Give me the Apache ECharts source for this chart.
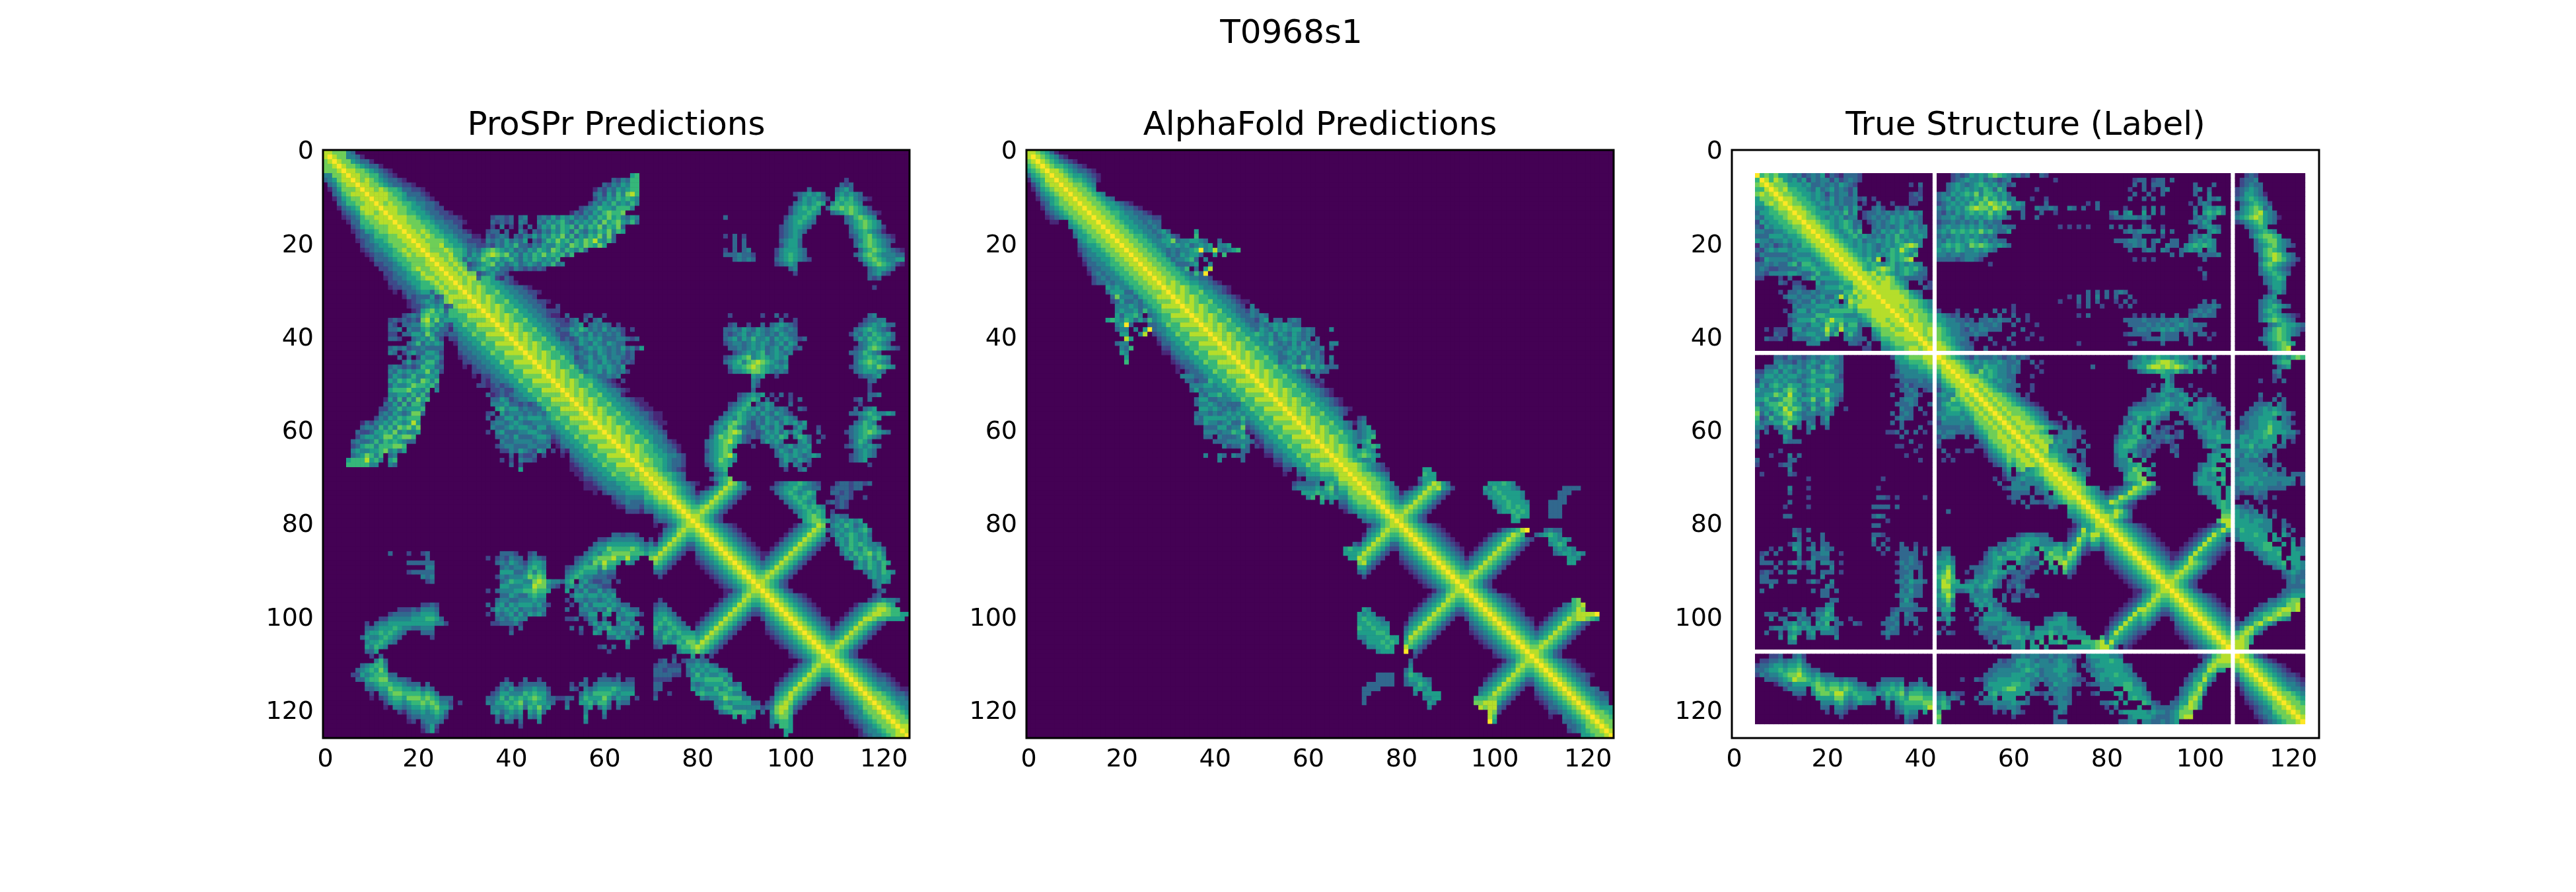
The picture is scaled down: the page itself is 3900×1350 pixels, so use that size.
<!DOCTYPE html>
<html><head><meta charset="utf-8">
<script src="https://cdn.jsdelivr.net/npm/echarts@6/dist/echarts.min.js"></script>
<style>html,body{margin:0;background:#fff}#c{width:3900px;height:1350px}</style></head>
<body><div id="c"></div>
<script>
const suptitle = "T0968s1";
const panelTitles = ["ProSPr Predictions","AlphaFold Predictions","True Structure (Label)"];
const tickStep = 20;
const residues = 126;
// Upper-triangle rows, "column:levels" with levels 0-9; matrices are symmetric.
const prosprRows = [
"0:8877743","1:98774431","2:987754331","3:9877654331","4:98877654321",
"5:98877664321,66:56","6:987876543321,62:324366,112:2","7:9887765433221,60:32435466,111:323","8:98878766533221,58:1324354566,104:3,110:3453","9:98888766533321,58:3425364786,101:23,103:45453,110:454543",
"10:98887765443321,58:2435465654,102:3545432,110:56564321","11:98787766544332,57:24354645464,101:3454565,109:4656654","12:98887765543322,55:234465546664,100:2456565,108:3667676542","13:988776655433221,53:132435467667,100:2455654,109:34567654321","14:9888776554332221,36:23,38:323,42:34,46:3435354534354657564354,86:3,99:2455654,112:3467654",
"15:9887776654433221,36:32,38:323,42:43,46:4354564354546475675463,99:3456543,112:34567654","16:98877766544332,36:2,38:4,40:2,42:3,44:3,46:3546465636465746573,98:2345543,113:35676542","17:988787665443321,35:2,36:33,39:3,42:42,45:32435465364354657465,98:234543,113:34565431","18:9887876655433321,32:1,35:32343,41:32435,46:35465746354657473,86:2,88:3,90:2,98:23454,113:2356754321","19:9887777655433221,31:2,33:2,35:434353435,45:324657564657685463,88:3,90:3,98:34553,114:346765432",
"20:98877866554332,34:2324354633243544,49:465476576575,88:3,90:3,98:24553,114:35676543","21:987778766554432,31:3435676,38:5453435465476465463,86:2,88:3,90:34,97:2455543,115:3567654321","22:98877866554333,31:3546787,38:6745354657565636,86:3334332,97:2456543,114:34676544433","23:9887876655434,30:35457656,38:4564354654546,88:34343,97:34565432,115:3567654455","24:988787665543,31:234567,37:45345,42:3454354634,97:23454,116:356765421",
"25:98878766554332,31:3456545,38:3324323232,100:34,117:345543","26:9887877665432,33:2345,38:32,101:2,117:34532","27:98878876654432,33:3,37:21,117:323","28:98787766554321","29:9887876655443321,118:2",
"30:98787667554433221","31:988787665544332","32:98787667554433221","33:988787665544332,50:2","34:98787667554433221,50:2",
"35:9887876655443211,52:3,56:23,60:2,87:2,94:2,97:3,99:2,117:34","36:98787667554433221,53:34,56:3,58:34,98:3,101:2,116:23344","37:988787665544332,52:2345,57:34343,63:2,87:23,91:2,94:3,96:345432,115:23454533","38:987876675544,50:23,52:3546534353432,66:2,86:3343543543454343,114:34565432","39:9887876655432,52:2454353434342,86:3234534543435433,113:2435465453",
"40:98787667554,51:23,52:3235454533344323,86:3453546445354543,102:23,114:354656543","41:988787665544,53:335435435433,86:2344345454345354,115:3456543","42:98787667554433,54:234545434353425,87:3343454534535423,114:2346765432","43:9887876655432,54:3434354343423,88:2345456345434,113:3346543","44:98787667554432,54:2345345344323,86:23456745654545,114:34565654",
"45:98878766554321,54:3335435434232,86:34564678765434,114:35676543","46:98787667554321,55:3454545435,87:3556787654545,113:2345657654","47:98878766554321,56:3445354342,87:2445677654343,114:3455543","48:9878766755432,60:3434,92:545,97:2,115:23345","49:98878766654321,64:2,92:43,117:3,118:3",
"50:98787667554321,92:4,93:2,117:2","51:988787665544321,92:3,117:2","52:9878766755441,89:234545,96:2,98:3,100:2,117:334","53:9887876655443211,89:34565,95:3,97:2,100:2,102:3,114:23,117:3","54:9878766755443211,87:23456,93:3454,100:3,115:2",
"55:9887876655443211,87:3456545354343,102:32,114:3,116:345","56:98787667554433211,86:345654535435432,113:3345654454","57:9887876655443211,85:34546543435434543,115:34565","58:9878766755443211,84:3456765324354535,100:4535,114:34654","59:98878766554432,83:2454764332354354,101:354,106:2,113:3456563",
"60:98787667554432,83:24567874332354535,100:354,106:3,112:2345676543","61:9887876655443,83:35767653232445465,101:4653,107:2,113:3456543","62:98787667544321,82:34567865320035454,102:453,106:3,113:24653","63:98878766544321,82:3456765,92:2,96:3434534,103:45,112:23454543","64:9878766554331,82:245676,97:35435454,114:34543",
"65:9887766554432,82:3456785,97:3454543454,113:234543","66:987876654332,82:3457654,98:3543543,113:2345","67:98776654332,82:235665,98:34043,104:2,117:2","68:9887654321,83:3456,99:2,102:34","69:988766543,84:345",
"70:98876543,83:24567","71:9887654321,84:2568753,97:2345565432,110:23323323","72:98876543,82:1356876532,96:23455654433,109:2333233","73:9876543,80:13456876532,97:345654565,109:33232","74:9876543456876532,98:34565654,110:2332,116:2",
"75:98765456876532,99:3456545,108:23,110:232","76:987667876532,100:34565654,110:232","77:9877876532,101:3456565,109:2","78:98876532,102:456765,109:3433","79:9876532,103:567765,109:3454545",
"80:987654321,101:134568,107:7,109:45465345","81:987654321,100:13456876,108:3,109:345454564","82:987654321,99:134568765,109:354565453","83:987654321,98:13456876532,110:45465454","84:987654321,97:13456876532,110:3546565443",
"85:987654321,96:13456876532,111:4565465453","86:987654321,95:13456876532,111:3546567564","87:9876543,94:13456876532,112:354656465","88:9876543456876532,114:35465465","89:98765456876532,114:4546546",
"90:987667876532,116:3454654","91:9877876532,117:45455","92:98876532,118:3454","93:9876532,118:34","94:9876532,119:23",
"95:987654321,118:23","96:987654321,117:2345443","97:987654321,114:134567765","98:987654321,113:13456788766","99:98765432,112:13456788776655",
"100:987654321,111:13456887665555","101:98765432,110:13456876532","102:9876543,109:13456876532","103:9876543456876532","104:98765456876532",
"105:987667876532","106:9877876532","107:98876532","108:9876532","109:987654321",
"110:987654321","111:987654321","112:9876543221","113:9876543321","114:9876544321",
"115:98765443211","116:9877654332","117:987765443","118:98776544","119:9877654",
"120:987765","121:98776","122:9877","123:988","124:98","125:9"];
const alphafoldRows = [
"0:8876531","1:98765421","2:987654321","3:9876654321","4:98876543321",
"5:98876554321","6:9887665431","7:98877654","8:9887765","9:98877654",
"10:988776543","11:988776554321","12:9887765543321","13:98877665443321","14:988776554433322",
"15:98877655443433","16:9887765544343","17:98877655443453,36:5","18:988776654434532,36:6","19:98877665445574,32:3445,36:5,37:43,41:3",
"20:98877665445785,31:454534545,41:445","21:9887766544587,30:3434456945843456","22:988776654544,30:34354553,40:5,42:6","23:98877665444,31:3,33:4563,38:4","24:9887766543,32:3,34:345,39:4",
"25:988776654,33:4,34:6,36:3,38:5,39:8","26:98877665433,36:6,37:3,38:9","27:9887766544332","28:98787665544321","29:988787665443321",
"30:98787667554321","31:988787665544321","32:9878766755443211","33:98878766554432,48:4","34:98787667554332,48:4,49:3",
"35:98878766554332,48:434,51:3","36:987876675543322,50:45,53:33,56:3,57:43","37:98878766554332,50:43454543,58:3","38:987876675543,50:54354545,58:5,59:3,60:43,65:4","39:98878766554,49:6545354354,59:34,61:3",
"40:987876675543,51:4534545434,62:3","41:98878766554,52:6434353534,62:3,65:44","42:987876675544,54:4345454334,65:3","43:98878766554,54:3454534343,63:2","44:98787667554,54:3345346343,65:4",
"45:98878766554,54:3454345443,65:3","46:98787667554321,57:6575645334,66:3","47:98878766554321,61:4433","48:9878766755432,62:3","49:98878766554321,63:2",
"50:98787667554321","51:988787665544321","52:98787667554321","53:988787665544321","54:98787667554321",
"55:988787665544321","56:9878766755432","57:98878766554,71:23","58:9878766755431,71:34","59:98878766543,71:345",
"60:98787667554,71:3454","61:9887876654,71:3456","62:987876654,71:456","63:98878765,72:4565","64:9878765,71:5654",
"65:988765,71:67654","66:98876543,73:45","67:9888765432","68:9887654321,85:55","69:988776543,85:655",
"70:98877654,84:3555","71:98877654,84:2568753,99:555654","72:98776543,82:1356878542,98:54655543,115:3333","73:9877654,80:13456876532,98:455655554,114:333","74:9876543456876532,99:45565554,114:33",
"75:98765456876532,100:45565554,112:3333","76:987667876532,100:34565655,112:333","77:9877876532,101:4556565,112:333","78:98876532,104:5655,112:333","79:9876532,104:55",
"80:987654321","81:987654321,101:134568,107:9,111:3433","82:987654321,99:13456876,109:344,111:5654","83:987654321,98:13456876532,112:55454","84:987654321,97:13456876532,112:4565",
"85:987654321,96:13456876532,113:45454","86:98765432,95:13456876532,113:345,116:5454","87:9876543,94:13456876532,116:554","88:9876543456876532,116:55","89:98765456876532",
"90:987667876532","91:9877876532","92:98876532","93:9876532","94:9876532",
"95:987654321","96:987654321,117:67","97:987654321,115:34678","98:987654321,113:1345687","99:98765432,112:13456788889",
"100:987654321,111:134568788765","101:98765432,110:13456876532","102:9876543,109:13456876532","103:9876543456876532","104:98765456876532",
"105:987667876532","106:9877876532","107:98876532","108:9876532","109:987654321",
"110:987654321","111:987654321","112:9876543321","113:98765432","114:9876543",
"115:98765443","116:987654332","117:98765433","118:9876544","119:9876555",
"120:987765","121:98776","122:9877","123:987","124:98","125:9"];
const labelRows = [
"","","","","",
"5:9676755434234351321333,27:2,47:23235454676543423,66:32,110:232","6:9868754535243442423432,47:2345445343234,69:2,86:23,88:3,90:23,92:3,94:3,109:2334","7:98777555453343435432,38:2,40:3,46:345434565453423,86:3,88:3,90:33,92:3,99:3,103:3,109:23433","8:9878665543534534324,40:2,46:3454545465364,65:2,85:2,88:3,90:2,92:34,99:34,102:3,108:234543","9:987766554542434424,38:232,44:3435456574665453,86:3,89:3,92:3,99:3,102:4,108:2355431",
"10:98876654543534334,27:23,30:2,38:223,44:34535454657564534,64:2,67:2,85:3,88:3,90:3,100:3,102:434,108:3456543","11:9877665454534334,28:2,31:3,34:2,38:22,44:2345454657687675454,67:3,76:2,78:3,98:2,100:343,109:3456542","12:988766543443535,27:3,30:342,35:323,44:4354546787768757443,65:43343,72:43,75:3,78:3,84:2,88:3,90:4,92:3,99:3,101:45454,109:4567634","13:98876555454635,28:2334343434534,44:324354565657565,62:3,66:3,69:2,81:34,84:45,88:5,90:4,92:3,99:4,101:56564,108:345678543","14:9877654545344,28:2343435454543,44:3445435454564543,62:3,65:3,81:23344,86:4343,99:34354,108:4567875431",
"15:9887665456533,29:234345454343,44:23343434353433,88:2,98:34354,108:234567543","16:988765456534,30:343434534534,44:34544545454343433,70:2,72:2,74:2,76:2,81:3,83:3,85:3,88:43,92:2,100:34543,110:34565","17:98876545646,30:435454654544,44:4546565657564335,84:34344,89:43,92:4,94:3,99:3,102:454,111:345654","18:9887654564543,30:343546454454,44:3434545454343,86:33,92:2,98:34354,111:3567765","19:988765545,28:3445454654544,44:435454565453433,82:3334434,90:34,94:33,98:345454,112:35677543",
"20:98876545454,31:3454567874,44:4565654767654543,84:33434,90:3,93:433,97:4565654,112:345675432","21:9887655456,30:4354658654,44:5454654454543,85:3,88:343,92:43,96:34545,102:44,112:3467654","22:9887654545,32:45656546,44:44344344433,94:3,96:3,100:33334,113:46787543","23:988765648,33:465678,44:3333234432,86:2,88:2,90:2,101:3,113:356876432","24:98876565,32:456454544,55:2,113:46765432",
"25:9886567876,35:4565643,44:0,100:2,113:3565432","26:988786765,35:4565433,101:3,113:3456543","27:98878787543,38:3332,101:2,114:34565","28:9887887654,40:3,42:2,114:34554","29:988887764,41:3,42:2,115:3554",
"30:98888877543,76:3,78:3,80:3,82:34,84:3,115:2453","31:9888887654,72:2,74:3,76:3,78:4,80:3,82:3,85:3,114:345","32:988888776542,70:2,74:3,76:3,78:3,82:2,84:3,86:2,101:3,103:3,113:34543","33:98878776543,60:2,74:2,76:3,79:2,83:2,85:3,100:33343,113:3456543","34:9887877654,44:2,48:2,52:3,56:3,58:3,60:2,98:234343,113:35654",
"35:988787765,44:54323,50:2,54:3,57:3,60:3,63:2,74:2,76:3,86:2,88:2,90:2,92:3,95:3,98:343433,113:345654321","36:98787765,44:55443323,53:3343433,61:3,63:2,84:333343334344343,113:35676543","37:9888776,44:65444343343343,60:3,65:2,85:33334343434543433,115:34565543","38:988787,44:76544324344333,62:3,86:344344545434333,114:3467654321","39:98787,44:76544333433,60:3,64:2,84:233333,92:4333,97:33,100:33,103:2,114:35676543",
"40:9878,44:7665443,52:2,55:3,59:3,63:2,66:2,88:23334333,98:3,102:2,113:3456765","41:987,44:87654332,56:2,60:2,74:2,85:23,92:3,98:3,114:3456765","42:98,44:88765433,54:3,58:2,115:45678","","44:98765432,52:433343234232,86:3454565545443,100:4,103:3,116:3454676",
"45:98876543,52:5454454334,64:3,66:2,85:3445567887654543,102:2,116:4566","46:9887654,53:465544343,65:2,77:3,85:34557887878765454,103:3,117:345","47:9887654,51:54756544343,66:2,87:345566556435,100:3,103:2,116:34","48:9887765,55:654433,64:2,92:553,116:23","49:98887654,57:5443,93:53,113:2,116:2,118:3",
"50:98787654,58:4333,64:2,90:2,92:354,98:2","51:987876543,59:33,64:2,89:3,92:4554,96:3,100:2","52:9878776543,63:2,89:33454,94:3454,99:3,102:2,113:3,117:3","53:98787765432,88:2334,92:4544454,100:3343,113:2,116:3,118:3","54:987877654321,86:23344,91:4565454,99:45443,104:2,112:3334,117:4,118:3",
"55:987877765432,85:344445,91:56544,96:45545,101:4333,105:3,111:33454543","56:987877765432,70:2,85:4555565,92:44,96:43445,101:4343,106:3,110:334455654,119:42","57:98788776543,71:3,84:33465454,92:33,97:34554,102:4333,109:33445554,118:43","58:9878877654321,72:2,84:35454,90:53,95:33,98:344353,104:55,109:2344556,116:554,119:32","59:987888776543,72:3,74:2,83:34465,89:53,92:232,99:34554,104:54,109:33445575,117:544",
"60:98787765,70:344332,83:35465,89:53232,95:23,100:445554,106:4,108:334455675,117:5,118:54,120:42","61:98788776,69:344433,82:2445565,90:3334323,100:345564,106:4,108:355455655,118:43,120:3","62:9878877,69:45343,75:3,82:355664,88:4323232,101:34455,106:5,108:454554555,118:4,120:2","63:987886,68:454443,76:3,82:456653,88:3232,94:23,101:3554,108:35564555,117:3,118:3","64:98787,68:5544,74:33,82:45544,87:3232,94:32,103:345,106:5,108:44454434,116:3",
"65:9878,68:665433,75:3,82:355,86:5,87:323,95:3,102:455,106:5,108:4354533,116:3","66:98776,70:5443,75:2,82:3446,88:5,102:4556,108:344334,116:2","67:988765,73:433,82:344556,90:4,100:3445,106:5,108:3444433,116:33","68:98876,74:433,83:3457665,100:355665,108:4344,112:44343,118:3","69:9887654,76:2,84:4667,89:54,99:34545,105:5,108:34454453433,120:33,122:3",
"70:988765,84:56677,99:355445,105:6,108:4555544444444,122:3","71:98876,84:3456876,99:45555,105:5,108:4455454443443,122:3","72:9887654,81:12345876532,100:34455,106:5,108:34434443333","73:98765432,80:12345876532,100:34455,106:5,108:3233433","74:9876543,80:345876532,102:345,106:5,108:2,112:323,116:2",
"75:987654,80:5876532,103:456,106:5,110:3,113:2","76:98765567,83:5321,104:565,108:4323,114:2","77:987668753,105:66,108:54434,114:3,116:2","78:98878653,105:77,108:5454443,116:3","79:9876532,104:6,105:88,108:55545544,118:3",
"80:987654321,102:12358,108:55555444,118:32","81:987654321,100:1235686,108:46555544,118:4,120:3","82:987654321,99:12358653,108:4555655,116:5,118:53","83:987654321,98:12358654,108:3555555,116:54,120:4,122:3","84:987654321,97:12358654321,110:445566,118:5,120:5,122:3",
"85:987654321,96:12358654321,110:34456655,120:54,122:4","86:987654321,95:12358654321,112:344556,120:5,121:54","87:9876543,94:12358654321,113:34555,119:555","88:9876543456876532,114:34456,120:554","89:98765456876532,116:345,120:4,121:54",
"90:987667876532,118:3454,122:3","91:9877876532,118:2343,122:3","92:98876532,119:3434","93:9876532,119:3333","94:9876532,118:33444",
"95:987654321,117:234555","96:987654321,115:3345677","97:987654321,113:234455778","98:987654321,112:3345678878","99:98765432,111:345667877",
"100:987654321,110:3455787654","101:98765432,109:34578653","102:9876543,109:578653","103:9876543,108:678753","104:987656,108:7875",
"105:98766,108:8875","106:98,108:887","","108:9876321","109:98765321",
"110:987654321","111:987654321","112:9876543221","113:9876543321","114:9876544321",
"115:98765443","116:98776544","117:9877654","118:987765","119:98776",
"120:9877","121:987","122:9","","",""];
const maskedRange = [5,122];
const maskedLines = [43,107];
const viridis = ["#440154","#482878","#3e4989","#31688e","#26828e","#1f9e89","#35b779","#6ece58","#b5de2b","#fde725"];
const categories = Array.from({length:residues},(_,i)=>String(i));

function expand(rows){
  const m = Array.from({length:residues},()=>new Array(residues).fill(0));
  rows.forEach((row)=>{
    if(!row) return;
    const first = parseInt(row,10);
    row.split(",").forEach(seg=>{
      const [s,d]=seg.split(":");
      const c0=parseInt(s,10);
      for(let k=0;k<d.length;k++){
        const c=c0+k;
        if(c<residues){ m[first][c]=+d[k]; m[c][first]=+d[k]; }
      }
    });
  });
  return m;
}
function cells(rows,masked){
  const m=expand(rows), out=[];
  for(let r=0;r<residues;r++)for(let c=0;c<residues;c++){
    if(masked){
      if(r<maskedRange[0]||r>maskedRange[1]||c<maskedRange[0]||c>maskedRange[1]) continue;
      if(maskedLines.includes(r)||maskedLines.includes(c)) continue;
    }
    out.push([c,r,m[r][c]]);
  }
  return out;
}
const font="DejaVu Sans";
const grids=[{left:489,top:227,width:888,height:890},{left:1554,top:227,width:889,height:890},{left:2622,top:227,width:889,height:890}];
const panelData=[cells(prosprRows,false),cells(alphafoldRows,false),cells(labelRows,true)];
const show=i=>i%tickStep===0;
const axisCommon={axisLine:{show:false},
    axisTick:{alignWithLabel:true,interval:(k)=>show(k),length:14,lineStyle:{width:3,color:"#000"}},
    axisLabel:{interval:(k)=>show(k),fontFamily:font,fontSize:38,color:"#000",margin:14},splitLine:{show:false},splitArea:{show:false}};
const chart=echarts.init(document.getElementById("c"),null,{renderer:"canvas"});
chart.setOption({
  backgroundColor:"#fff",animation:false,
  title:[{text:suptitle,left:1950,top:22,textAlign:"center",textStyle:{fontFamily:font,fontSize:50,fontWeight:"normal",color:"#000"}}]
    .concat(panelTitles.map((t,i)=>({text:t,left:grids[i].left+grids[i].width/2-5,top:161,textAlign:"center",textStyle:{fontFamily:font,fontSize:50,fontWeight:"normal",color:"#000"}}))),
  grid:grids.map((g,i)=>({...g,show:true,borderWidth:0,backgroundColor:i<2?viridis[0]:"transparent"})),
  xAxis:grids.map((g,i)=>({type:"category",gridIndex:i,data:categories,position:"bottom",...axisCommon})),
  yAxis:grids.map((g,i)=>({type:"category",gridIndex:i,data:categories,inverse:true,...axisCommon})),
  visualMap:[{type:"continuous",show:false,seriesIndex:[0,1,2,3],dimension:2,min:0,max:9,inRange:{color:viridis}}],
  graphic:grids.map(g=>({type:"rect",z:100,shape:{x:g.left,y:g.top,width:g.width,height:g.height},style:{fill:"none",stroke:"#000",lineWidth:3}})),
  series:panelData.concat([panelData[2]]).map((d,i)=>({type:"heatmap",xAxisIndex:Math.min(i,2),yAxisIndex:Math.min(i,2),data:d,progressive:0,emphasis:{disabled:true},itemStyle:{borderWidth:0}}))
});
</script></body></html>
